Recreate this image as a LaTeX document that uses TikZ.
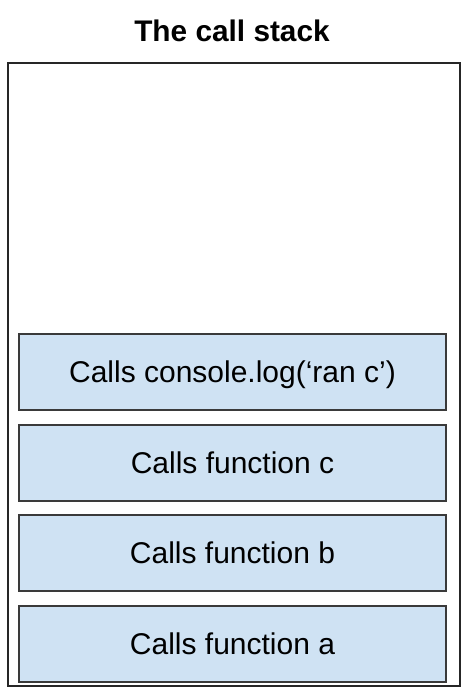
\documentclass[tikz,border=0pt]{standalone}
\usepackage{fontspec}
\setmainfont{Liberation Sans}
\definecolor{boxfill}{HTML}{CFE2F3}
\definecolor{boxline}{HTML}{3A3A3A}
\begin{document}
\begin{tikzpicture}[x=1pt,y=1pt,
  stackbox/.style={draw=boxline, line width=1.5pt, fill=boxfill, minimum width=427pt, minimum height=76pt, inner sep=0pt, text height=21.5pt, text depth=0pt, font=\fontsize{30}{36}\selectfont},
  frame/.style={draw=black!85, line width=2pt}]
\useasboundingbox (0,0) rectangle (464,694);
\node[font=\fontsize{29.8}{36}\bfseries\selectfont, anchor=base] (title) at (232,652) {The call stack};
\node[frame, minimum width=452pt, minimum height=623pt, inner sep=0pt, anchor=south west] (stack) at (7,7) {};
\node[stackbox] (log) at (232.5,322) {Calls console.log(‘ran c’)};
\node[stackbox] (fc) at (232.5,231) {Calls function c};
\node[stackbox] (fb) at (232.5,140.75) {Calls function b};
\node[stackbox] (fa) at (232.5,50) {Calls function a};
\end{tikzpicture}
\end{document}
